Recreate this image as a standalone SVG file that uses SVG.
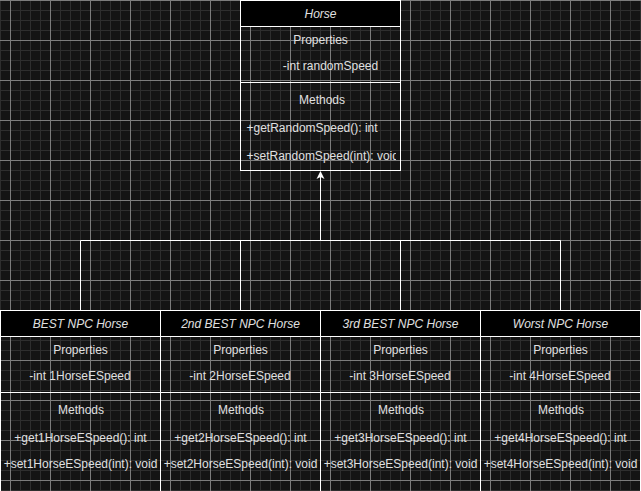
<svg xmlns="http://www.w3.org/2000/svg" width="641" height="491" viewBox="0 0 641 491">
<style>
.box{fill:none;stroke:#ffffff;stroke-width:1}
.hdr{fill:#000000;stroke:#ffffff;stroke-width:1}
.t{font-family:"Liberation Sans",Arial,sans-serif;font-size:12px;fill:#e0e0e0}
.c{text-anchor:middle}
.i{font-style:italic}
.edge{fill:none;stroke:#ffffff;stroke-width:1}
</style>
<defs>
<pattern id="grid" x="10" y="0" width="40" height="40" patternUnits="userSpaceOnUse">
<rect x="0" y="0" width="40" height="40" fill="#141414"/>
<rect x="10" y="0" width="1" height="40" fill="#2e2e2e"/>
<rect x="20" y="0" width="1" height="40" fill="#2e2e2e"/>
<rect x="30" y="0" width="1" height="40" fill="#2e2e2e"/>
<rect x="0" y="10" width="40" height="1" fill="#2e2e2e"/>
<rect x="0" y="20" width="40" height="1" fill="#2e2e2e"/>
<rect x="0" y="30" width="40" height="1" fill="#2e2e2e"/>
<rect x="0" y="0" width="1" height="40" fill="#7c7c7c"/>
<rect x="0" y="0" width="40" height="1" fill="#7c7c7c"/>
</pattern>
<clipPath id="clipHorse"><rect x="240" y="0" width="156" height="171"/></clipPath>
</defs>
<rect x="0" y="0" width="641" height="491" fill="url(#grid)"/>

<g id="connectors">
<polyline class="edge" points="80.5,310 80.5,240.5 320.5,240.5 320.5,177"/>
<polyline class="edge" points="240.5,310 240.5,240.5 320.5,240.5 320.5,177"/>
<polyline class="edge" points="400.5,310 400.5,240.5 320.5,240.5 320.5,177"/>
<polyline class="edge" points="560.5,310 560.5,240.5 320.5,240.5 320.5,177"/>
<path d="M320.5,171 L324.5,179 L320.5,177 L316.5,179 Z" fill="#ffffff"/>
</g>

<g id="horse">
<rect class="hdr" x="240.5" y="0.5" width="160" height="26"/>
<rect class="box" x="240.5" y="26.5" width="160" height="56"/>
<rect class="box" x="240.5" y="82.5" width="160" height="88"/>
<text class="t c i" x="320.5" y="18">Horse</text>
<text class="t c" x="320.5" y="44">Properties</text>
<text class="t c" x="330.5" y="70">-int randomSpeed</text>
<text class="t c" x="322" y="104">Methods</text>
<g clip-path="url(#clipHorse)">
<text class="t" x="246.5" y="132">+getRandomSpeed(): int</text>
<text class="t" x="246.5" y="160">+setRandomSpeed(int): void</text>
</g>
</g>

<g id="best">
<rect class="hdr" x="0.5" y="310.5" width="160" height="26"/>
<rect class="box" x="0.5" y="336.5" width="160" height="56"/>
<rect class="box" x="0.5" y="392.5" width="160" height="110"/>
<text class="t c i" x="80.5" y="328">BEST NPC Horse</text>
<text class="t c" x="80.5" y="354">Properties</text>
<text class="t c" x="80" y="380">-int 1HorseESpeed</text>
<text class="t c" x="81" y="414">Methods</text>
<text class="t c" x="80.5" y="441.5">+get1HorseESpeed(): int</text>
<text class="t c" x="80.5" y="468">+set1HorseESpeed(int): void</text>
</g>

<g id="second">
<rect class="hdr" x="160.5" y="310.5" width="160" height="26"/>
<rect class="box" x="160.5" y="336.5" width="160" height="56"/>
<rect class="box" x="160.5" y="392.5" width="160" height="110"/>
<text class="t c i" x="240.5" y="328">2nd BEST NPC Horse</text>
<text class="t c" x="240.5" y="354">Properties</text>
<text class="t c" x="240" y="380">-int 2HorseESpeed</text>
<text class="t c" x="241" y="414">Methods</text>
<text class="t c" x="240.5" y="441.5">+get2HorseESpeed(): int</text>
<text class="t c" x="240.5" y="468">+set2HorseESpeed(int): void</text>
</g>

<g id="third">
<rect class="hdr" x="320.5" y="310.5" width="160" height="26"/>
<rect class="box" x="320.5" y="336.5" width="160" height="56"/>
<rect class="box" x="320.5" y="392.5" width="160" height="110"/>
<text class="t c i" x="400.5" y="328">3rd BEST NPC Horse</text>
<text class="t c" x="400.5" y="354">Properties</text>
<text class="t c" x="400" y="380">-int 3HorseESpeed</text>
<text class="t c" x="401" y="414">Methods</text>
<text class="t c" x="400.5" y="441.5">+get3HorseESpeed(): int</text>
<text class="t c" x="400.5" y="468">+set3HorseESpeed(int): void</text>
</g>

<g id="worst">
<rect class="hdr" x="480.5" y="310.5" width="160" height="26"/>
<rect class="box" x="480.5" y="336.5" width="160" height="56"/>
<rect class="box" x="480.5" y="392.5" width="160" height="110"/>
<text class="t c i" x="560.5" y="328">Worst NPC Horse</text>
<text class="t c" x="560.5" y="354">Properties</text>
<text class="t c" x="560" y="380">-int 4HorseESpeed</text>
<text class="t c" x="561" y="414">Methods</text>
<text class="t c" x="560.5" y="441.5">+get4HorseESpeed(): int</text>
<text class="t c" x="560.5" y="468">+set4HorseESpeed(int): void</text>
</g>
</svg>
